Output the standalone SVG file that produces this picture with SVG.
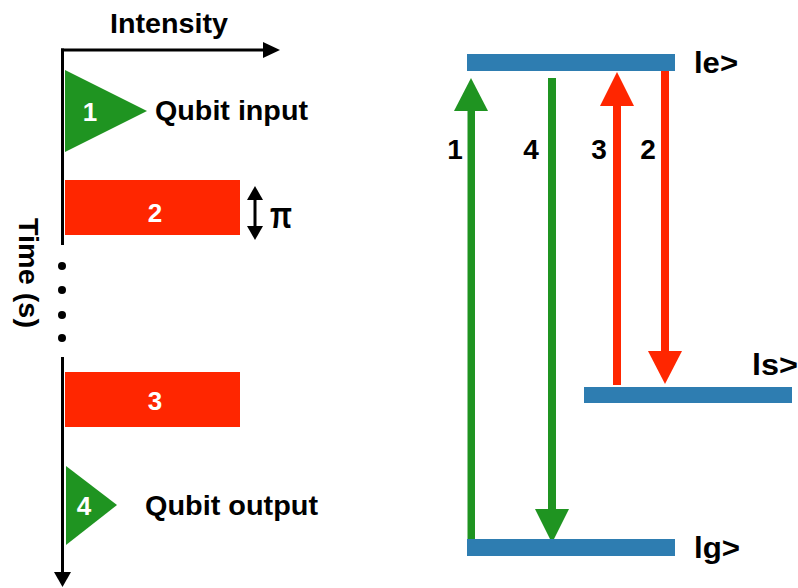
<svg xmlns="http://www.w3.org/2000/svg" width="798" height="588" viewBox="0 0 798 588">
  <style>
    .lbl { font-family: "Liberation Sans", Arial, sans-serif; font-weight: bold; fill: #000; }
    .num { font-family: "Liberation Sans", Arial, sans-serif; font-weight: bold; fill: #fff; font-size: 26px; text-anchor: middle; }
    .axis { stroke: #000; stroke-width: 3; fill: none; }
    .green { fill: #1f9421; }
    .red { fill: #ff2600; }
    .level { fill: #2e7db1; }
  </style>

  <!-- Timing chart: axes -->
  <g id="axes">
    <text class="lbl" x="110" y="33" font-size="28" textLength="118" lengthAdjust="spacingAndGlyphs">Intensity</text>
    <line class="axis" x1="61" y1="50" x2="266" y2="50"/>
    <polygon points="263,42 280,50 263,58" fill="#000"/>
    <line class="axis" x1="62.5" y1="48.5" x2="62.5" y2="245"/>
    <circle cx="62" cy="266" r="4" fill="#000"/>
    <circle cx="62" cy="290" r="4" fill="#000"/>
    <circle cx="62" cy="315" r="4" fill="#000"/>
    <circle cx="62" cy="338" r="4" fill="#000"/>
    <line class="axis" x1="62.5" y1="357" x2="62.5" y2="574"/>
    <polygon points="54,572 71,572 62.5,587" fill="#000"/>
    <text class="lbl" font-size="28" transform="translate(19,218) rotate(90)" textLength="110" lengthAdjust="spacingAndGlyphs">Time (s)</text>
  </g>

  <!-- Pulse 1: qubit input -->
  <g id="pulse1">
    <polygon class="green" points="65,70 147,111 65,152"/>
    <text class="num" x="90" y="121">1</text>
    <text class="lbl" x="155" y="120" font-size="28" textLength="153" lengthAdjust="spacingAndGlyphs">Qubit input</text>
  </g>

  <!-- Pulse 2: pi pulse -->
  <g id="pulse2">
    <rect class="red" x="65" y="180" width="175" height="55"/>
    <text class="num" x="155" y="222">2</text>
    <line x1="255" y1="196" x2="255" y2="230" stroke="#000" stroke-width="3"/>
    <polygon points="247,200 263,200 255,186" fill="#000"/>
    <polygon points="247,226 263,226 255,240" fill="#000"/>
    <text class="lbl" x="270" y="228" font-size="36" textLength="22" lengthAdjust="spacingAndGlyphs">π</text>
  </g>

  <!-- Pulse 3 -->
  <g id="pulse3">
    <rect class="red" x="65" y="372" width="175" height="55"/>
    <text class="num" x="155" y="410">3</text>
  </g>

  <!-- Pulse 4: qubit output -->
  <g id="pulse4">
    <polygon class="green" points="66,466 117,505 66,545"/>
    <text class="num" x="84" y="515">4</text>
    <text class="lbl" x="145" y="515" font-size="28" textLength="173" lengthAdjust="spacingAndGlyphs">Qubit output</text>
  </g>

  <!-- Level scheme: transitions -->
  <g id="connectors">
    <rect class="green" x="467.5" y="108" width="7.5" height="433"/>
    <polygon class="green" points="454,111 488,111 471,78"/>
    <rect class="green" x="548" y="78" width="8" height="434"/>
    <polygon class="green" points="535,509 569,509 552,543"/>
    <rect class="red" x="613" y="103" width="8" height="282"/>
    <polygon class="red" points="600,106 634,106 617,72"/>
    <rect class="red" x="661" y="71" width="8" height="283"/>
    <polygon class="red" points="648,351 682,351 665,384"/>
    <text class="lbl" x="455" y="159" font-size="28" text-anchor="middle">1</text>
    <text class="lbl" x="531" y="159" font-size="28" text-anchor="middle">4</text>
    <text class="lbl" x="599" y="159" font-size="28" text-anchor="middle">3</text>
    <text class="lbl" x="648" y="159" font-size="28" text-anchor="middle">2</text>
  </g>

  <!-- Level scheme: states -->
  <g id="level-e">
    <rect class="level" x="467" y="54" width="208" height="17"/>
    <text class="lbl" x="694" y="73" font-size="29" textLength="44" lengthAdjust="spacingAndGlyphs">le&gt;</text>
  </g>
  <g id="level-s">
    <rect class="level" x="584" y="387" width="208" height="16"/>
    <text class="lbl" x="752" y="375" font-size="29" textLength="46" lengthAdjust="spacingAndGlyphs">ls&gt;</text>
  </g>
  <g id="level-g">
    <rect class="level" x="467" y="539" width="208" height="17"/>
    <text class="lbl" x="694" y="558" font-size="29" textLength="46" lengthAdjust="spacingAndGlyphs">lg&gt;</text>
  </g>
</svg>
